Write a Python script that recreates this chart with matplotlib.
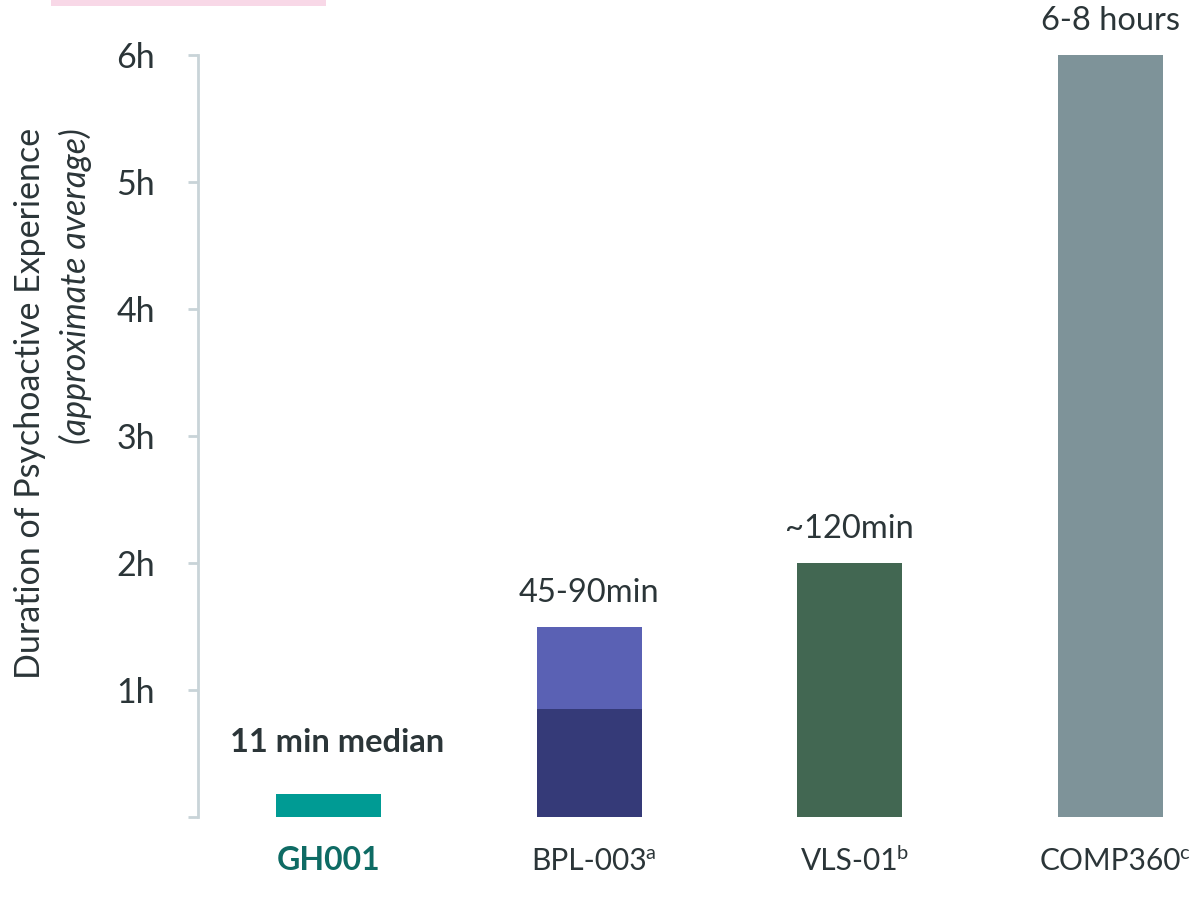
import matplotlib
matplotlib.use("Agg")
import matplotlib.pyplot as plt
from matplotlib.patches import Rectangle

plt.rcParams['font.family'] = ['Lato', 'DejaVu Sans']

categories = ["GH001", "BPL-003", "VLS-01", "COMP360"]
superscripts = ["", "a", "b", "c"]
durations_h = [0.18, 1.5, 2.0, 6.0]          # approximate average duration (hours)
bpl_lower_h = 0.85                            # darker lower segment of BPL-003
value_labels = ["11 min median", "45-90min", "~120min", "6-8 hours"]
yticks = [1, 2, 3, 4, 5, 6]
ytick_labels = ["1h", "2h", "3h", "4h", "5h", "6h"]

bar_colors = ["#009b94", "#5a61b4", "#426752", "#7e9399"]
bpl_dark = "#353a78"
text_color = "#2b3538"
axis_color = "#c9d4d8"

W, H = 1196, 900
fig = plt.figure(figsize=(W / 100, H / 100), dpi=100)
fig.patch.set_facecolor("white")

ax = fig.add_axes([198 / W, (H - 817) / H, 998 / W, 762 / H])
ax.set_xlim(-0.5, 3.328)
ax.set_ylim(0, 6)

x = list(range(len(categories)))
width = 0.403
ax.bar(x, durations_h, width=width, color=bar_colors, zorder=2)
ax.bar([1], [bpl_lower_h], width=width, color=bpl_dark, zorder=3)

for i, (xi, v, lab) in enumerate(zip(x, durations_h, value_labels)):
    if i == 0:
        ax.annotate(lab, (xi, v), xytext=(9, 52), textcoords="offset pixels",
                    ha="center", va="center", fontsize=23.5, fontweight="bold",
                    color=text_color, annotation_clip=False)
    else:
        ax.annotate(lab, (xi, v), xytext=(0, 34), textcoords="offset pixels",
                    ha="center", va="center", fontsize=23.5,
                    color=text_color, annotation_clip=False)

for s in ["top", "right", "bottom"]:
    ax.spines[s].set_visible(False)
ax.spines["left"].set_color(axis_color)
ax.spines["left"].set_linewidth(2)
ax.set_yticks([0] + yticks)
ax.set_yticklabels([""] + ytick_labels)
ax.tick_params(axis="y", length=7, width=2, color=axis_color, labelsize=24.5,
               labelcolor=text_color, pad=24)

ax.set_xticks(x)
ax.set_xticklabels(categories)
ax.tick_params(axis="x", length=0, labelsize=21.5, labelcolor=text_color, pad=38)
lbls = ax.get_xticklabels()
for lb in lbls:
    lb.set_verticalalignment("baseline")
lbls[0].set_fontweight("bold")
lbls[0].set_color("#0e6b64")
lbls[0].set_fontsize(23)

fig.canvas.draw()
for lb, s in zip(lbls, superscripts):
    if s:
        ax.annotate(s, xy=(1.0, 1.0), xycoords=lb, xytext=(-2, 2),
                    textcoords="offset pixels", ha="left", va="top",
                    fontsize=14.5, color=text_color, annotation_clip=False)

fig.text(30 / W, 1 - 128 / H, "Duration of Psychoactive Experience", rotation=90,
         ha="center", va="top", fontsize=24.5, color=text_color)
fig.text(75 / W, 1 - 128 / H, "(approximate average)", rotation=90,
         ha="center", va="top", fontsize=24.5, style="italic", color=text_color)

fig.add_artist(Rectangle((51 / W, 1 - 6 / H), 275 / W, 6 / H,
                         transform=fig.transFigure, color="#f8d8e7", lw=0))

fig.savefig("out.png", dpi=100, facecolor="white")
